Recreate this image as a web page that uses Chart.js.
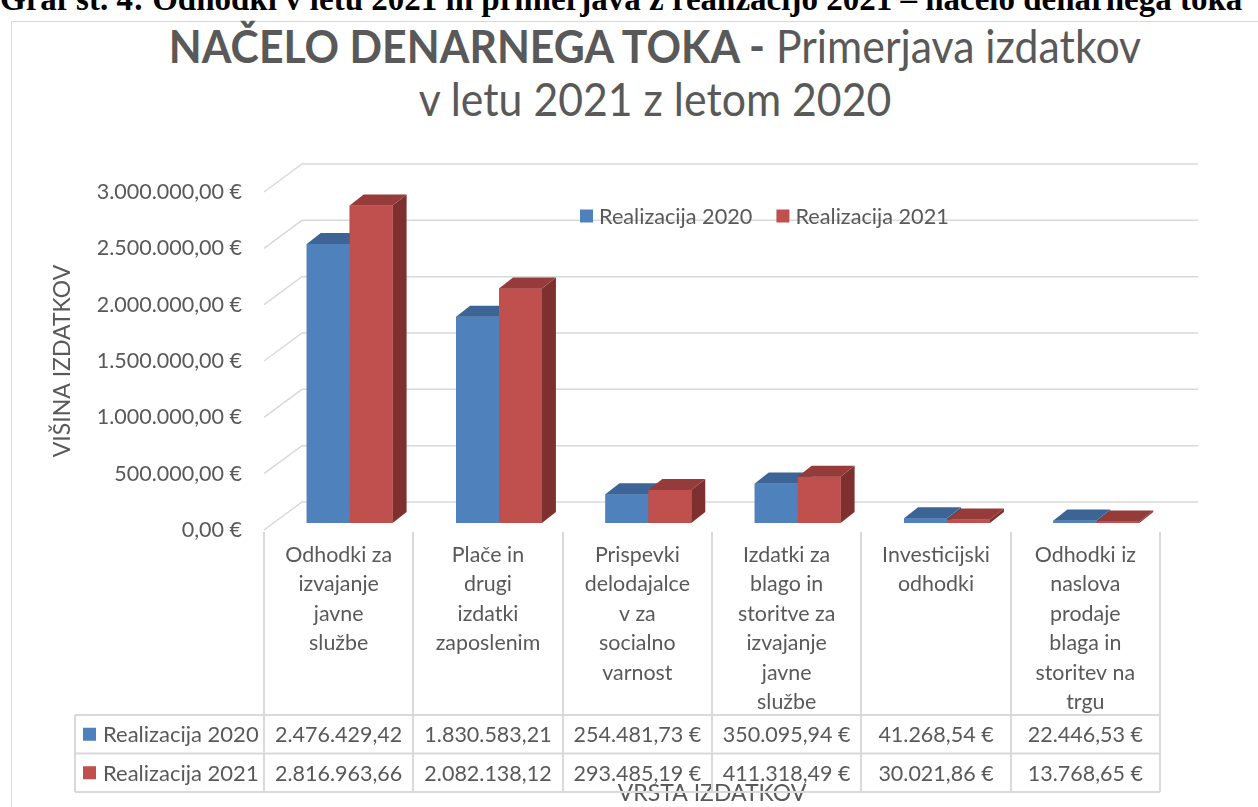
<!DOCTYPE html>
<html>
<head>
<meta charset="utf-8">
<script src="https://cdn.jsdelivr.net/npm/chart.js@4.4.1/dist/chart.umd.min.js"></script>
<style>
  html, body { margin: 0; padding: 0; background: #fff; overflow: hidden; }
  #wrap { position: relative; width: 1258px; height: 807px; overflow: hidden; }
  #caption { position: absolute; left: 0; top: -17px; font: bold 33px/33px "Liberation Serif"; white-space: nowrap; color: #000; }
  #frame { position: absolute; left: 11px; top: 21px; width: 1400px; height: 900px; border: 1px solid #d9d9d9; }
  #title { position: absolute; left: 0; top: 19px; width: 1310px; text-align: center; font-family: Lato; font-size: 46px; line-height: 53px; color: #595959; transform: scaleX(0.93); transform-origin: 655px 0; }
  #title b { font-weight: bold; }
  canvas { position: absolute; left: 0; top: 0; }
</style>
</head>
<body>
<div id="wrap">
  <div id="caption">Graf št. 4: Odhodki v letu 2021 in primerjava z realizacijo 2021 – načelo denarnega toka</div>
  <div id="frame"></div>
  <div id="title"><b>NAČELO DENARNEGA TOKA -</b> Primerjava izdatkov<br>v letu 2021 z letom 2020</div>
  <canvas id="myChart" width="1258" height="807"></canvas>
</div>
<script>
// data
const categories = [
  ['Odhodki za', 'izvajanje', 'javne', 'službe'],
  ['Plače in', 'drugi', 'izdatki', 'zaposlenim'],
  ['Prispevki', 'delodajalce', 'v za', 'socialno', 'varnost'],
  ['Izdatki za', 'blago in', 'storitve za', 'izvajanje', 'javne', 'službe'],
  ['Investicijski', 'odhodki'],
  ['Odhodki iz', 'naslova', 'prodaje', 'blaga in', 'storitev na', 'trgu']
];
const seriesNames = ['Realizacija 2020', 'Realizacija 2021'];
const real2020 = [2476429.42, 1830583.21, 254481.73, 350095.94, 41268.54, 22446.53];
const real2021 = [2816963.66, 2082138.12, 293485.19, 411318.49, 30021.86, 13768.65];
const yTicks = [0, 500000, 1000000, 1500000, 2000000, 2500000, 3000000];

// colours: front, top, side
const shades = [
  { front: '#4f81bd', top: '#3c6494', side: '#385d8a' },
  { front: '#c0504d', top: '#953b39', side: '#7d302e' }
];
const grey = '#595959';
const lineGrey = '#d9d9d9';
const font = 'Lato';

// 3d look
const wallDepth = { x: 38, y: 28 };
const barShift = { x: 11, y: -7 };
const barDepth = { x: 14, y: 11 };

function euro(v) {
  let parts = Math.abs(v).toFixed(2).split('.');
  let i = parts[0].replace(/\B(?=(\d{3})+(?!\d))/g, '.');
  return i + ',' + parts[1];
}

function bar3d(ctx, el, c) {
  const p = el.getProps(['x', 'y', 'base', 'width'], true);
  const l = p.x - p.width / 2, r = p.x + p.width / 2;
  const t = Math.min(p.y, p.base), b = Math.max(p.y, p.base);
  const dx = barDepth.x, dy = barDepth.y;
  ctx.fillStyle = c.side;
  ctx.beginPath();
  ctx.moveTo(r, t); ctx.lineTo(r + dx, t - dy); ctx.lineTo(r + dx, b - dy); ctx.lineTo(r, b);
  ctx.closePath(); ctx.fill();
  ctx.fillStyle = c.front;
  ctx.fillRect(l, t, r - l, b - t);
  ctx.fillStyle = c.top;
  ctx.beginPath();
  ctx.moveTo(l, t); ctx.lineTo(l + dx, t - dy); ctx.lineTo(r + dx, t - dy); ctx.lineTo(r, t);
  ctx.closePath(); ctx.fill();
}

const excel3d = {
  id: 'excel3d',
  beforeDatasetsDraw(chart) {
    const ctx = chart.ctx, area = chart.chartArea, y = chart.scales.y;
    ctx.save();
    ctx.strokeStyle = lineGrey;
    ctx.lineWidth = 1.5;
    yTicks.forEach(v => {
      const py = y.getPixelForValue(v);
      ctx.beginPath();
      ctx.moveTo(area.left, py);
      ctx.lineTo(area.left + wallDepth.x, py - wallDepth.y);
      ctx.lineTo(area.right + wallDepth.x, py - wallDepth.y);
      ctx.stroke();
    });
    ctx.restore();
    ctx.save();
    ctx.translate(barShift.x, barShift.y);
  },
  afterDatasetsDraw(chart) {
    const ctx = chart.ctx;
    const metas = [chart.getDatasetMeta(0), chart.getDatasetMeta(1)];
    for (let i = 0; i < categories.length; i++) {
      metas.forEach((m, k) => bar3d(ctx, m.data[i], shades[k]));
    }
    ctx.restore();
  },
  afterDraw(chart) {
    const ctx = chart.ctx, area = chart.chartArea, x = chart.scales.x;
    const colW = x.getPixelForValue(1) - x.getPixelForValue(0);
    const tableTop = area.bottom + 185, rowH = 38.5, tableLeft = 75;
    const tableBottom = tableTop + 2 * rowH;
    ctx.save();
    ctx.strokeStyle = lineGrey;
    ctx.lineWidth = 2;
    // column lines
    for (let i = 0; i <= categories.length; i++) {
      const cx = Math.round(area.left + i * colW);
      ctx.beginPath();
      ctx.moveTo(cx, area.bottom + 2);
      ctx.lineTo(cx, tableBottom);
      ctx.stroke();
    }
    // table rows
    for (let r = 0; r <= 2; r++) {
      const ry = tableTop + r * rowH;
      ctx.beginPath();
      ctx.moveTo(tableLeft, ry);
      ctx.lineTo(area.right, ry);
      ctx.stroke();
    }
    ctx.beginPath();
    ctx.moveTo(tableLeft, tableTop);
    ctx.lineTo(tableLeft, tableBottom);
    ctx.stroke();

    ctx.textBaseline = 'middle';
    [real2020, real2021].forEach((vals, r) => {
      const cy = tableTop + r * rowH + rowH / 2;
      ctx.fillStyle = shades[r].front;
      ctx.fillRect(83, cy - 6.5, 13, 13);
      ctx.fillStyle = grey;
      ctx.textAlign = 'left';
      ctx.font = '22px ' + font;
      ctx.fillText(seriesNames[r], 103, cy + 1);
      ctx.textAlign = 'center';
      ctx.font = '21.5px ' + font;
      vals.forEach((v, i) => {
        let txt = euro(v) + ' €';
        if (ctx.measureText(txt).width > colW - 12) txt = euro(v);
        ctx.fillText(txt, x.getPixelForValue(i), cy + 1);
      });
    });

    // legend
    ctx.font = '21.7px ' + font;
    ctx.textAlign = 'left';
    let lx = 580;
    const ly = 216;
    seriesNames.forEach((name, k) => {
      ctx.fillStyle = shades[k].front;
      ctx.fillRect(lx, ly - 6.5, 13, 13);
      ctx.fillStyle = grey;
      ctx.fillText(name, lx + 19, ly + 1);
      lx += 19 + ctx.measureText(name).width + 24;
    });
    ctx.restore();
  }
};

const ctx = document.getElementById('myChart').getContext('2d');
const myChart = new Chart(ctx, {
  type: 'bar',
  data: {
    labels: categories,
    datasets: [
      { label: seriesNames[0], data: real2020, backgroundColor: shades[0].front, borderWidth: 0 },
      { label: seriesNames[1], data: real2021, backgroundColor: shades[1].front, borderWidth: 0 }
    ]
  },
  options: {
    responsive: false,
    animation: false,
    layout: { padding: { left: 0, top: 192, right: 98, bottom: 0 } },
    plugins: { legend: { display: false }, tooltip: { enabled: false } },
    datasets: { bar: { barPercentage: 1, categoryPercentage: 0.575 } },
    scales: {
      x: {
        grid: { display: false, drawTicks: false },
        border: { display: false },
        ticks: { color: grey, font: { family: font, size: 21.4, lineHeight: '29.5px' }, padding: 10, maxRotation: 0, minRotation: 0, autoSkip: false },
        title: { display: true, text: 'VRSTA IZDATKOV', color: grey, font: { family: font, size: 23 }, padding: { top: 0, bottom: 0 } },
        afterFit(scale) { scale.height = 807 - 530; }
      },
      y: {
        min: 0, max: 3000000,
        grid: { display: false, drawTicks: false },
        border: { display: false },
        afterBuildTicks(scale) { scale.ticks = yTicks.map(v => ({ value: v })); },
        ticks: { color: grey, font: { family: font, size: 21.5 }, padding: 22, callback: v => euro(v) + ' €' },
        title: { display: true, text: 'VIŠINA IZDATKOV', color: grey, font: { family: font, size: 23 }, padding: { top: 49, bottom: 0 } },
        afterFit(scale) { scale.width = 264; }
      }
    }
  },
  plugins: [excel3d]
});
</script>
</body>
</html>
